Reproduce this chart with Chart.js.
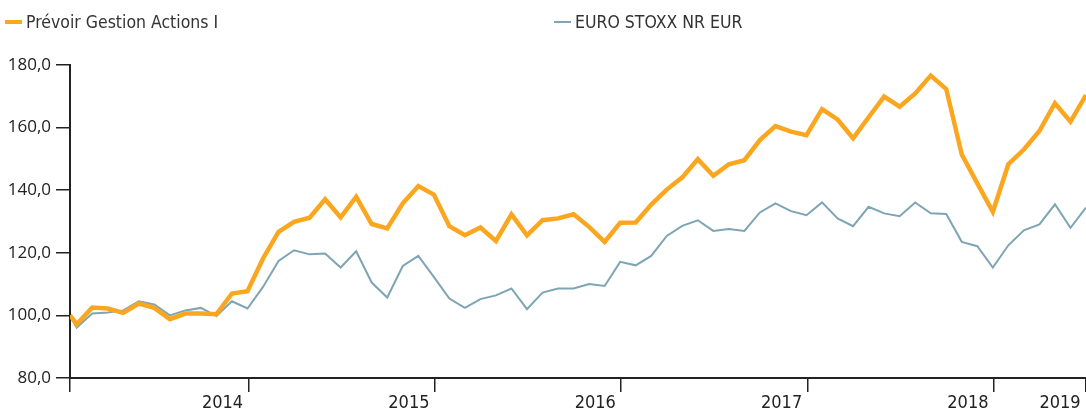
<!DOCTYPE html>
<html lang="fr">
<head>
    <meta charset="UTF-8">
    <title>Prévoir Gestion Actions I</title>
    <script src="https://cdn.jsdelivr.net/npm/chart.js"></script>
    <style>
        body {
            margin: 0;
            padding: 0;
            background: #fff;
        }
        .wrap {
            position: relative;
            width: 1086px;
            height: 411px;
        }
        .legend-item {
            position: absolute;
            top: 11px;
            height: 22px;
            font-family: 'Liberation Sans Narrow', 'DejaVu Sans Condensed', sans-serif;
            font-stretch: condensed;
            font-size: 17.5px;
            color: #333;
            white-space: nowrap;
            display: flex;
            align-items: center;
        }
        .legend-item .swatch {
            display: inline-block;
            width: 17px;
            margin-right: 4px;
        }
    </style>
</head>
<body>
    <div class="wrap">
        <canvas id="chart"></canvas>
        <div class="legend-item" style="left: 5px;"><span class="swatch" style="background:#FAA61E; height:4px"></span>Prévoir Gestion Actions I</div>
        <div class="legend-item" style="left: 554px;"><span class="swatch" style="background:#7DA5B4; height:2px"></span>EURO STOXX NR EUR</div>
    </div>

    <script>
        // month position of each point (first point is a mid-month start)
        var firstPointPos = -0.43;
        var fundValues = [100.0, 97.2, 102.5, 102.2, 100.8, 103.8, 102.4, 98.8, 100.6, 100.6, 100.4, 107.0, 107.7,
            118.2, 126.7, 129.9, 131.2, 137.1, 131.3, 137.9, 129.2, 127.8, 135.8, 141.3, 138.6, 128.5, 125.6,
            128.1, 123.8, 132.3, 125.6, 130.4, 131.0, 132.3, 128.3, 123.5, 129.6, 129.7, 135.4, 140.2,
            144.1, 149.9, 144.6, 148.3, 149.6, 156.0, 160.5, 158.7, 157.6, 165.9, 162.6, 156.6, 163.3,
            169.9, 166.7, 170.9, 176.6, 172.3, 151.4, 142.2, 133.1, 148.3, 153.0, 158.9, 167.8, 161.9, 170.4];
        var indexValues = [100.0, 96.1, 100.6, 100.9, 101.6, 104.5, 103.5, 100.0, 101.6, 102.4, 99.8, 104.5, 102.2,
            109.1, 117.4, 120.8, 119.5, 119.8, 115.3, 120.5, 110.5, 105.7, 115.8, 119.0, 112.3, 105.4, 102.4,
            105.2, 106.4, 108.6, 102.0, 107.3, 108.6, 108.6, 110.0, 109.4, 117.1, 116.0, 119.0, 125.4,
            128.6, 130.4, 127.0, 127.6, 127.0, 132.9, 135.8, 133.3, 132.0, 136.1, 131.0, 128.5, 134.7,
            132.6, 131.7, 136.1, 132.6, 132.4, 123.5, 122.1, 115.3, 122.4, 127.2, 129.1, 135.5, 128.0, 134.4];
        var yearTickPos = [firstPointPos, 11.07, 23.07, 35.07, 47.07, 59.07, 65];
        var yearLabels = ['', '2014', '2015', '2016', '2017', '2018', '2019'];
        var seriesNames = ['Prévoir Gestion Actions I', 'EURO STOXX NR EUR'];

        function toPoints(values) {
            return values.map(function (v, i) {
                return { x: i === 0 ? firstPointPos : i - 1, y: v };
            });
        }

        var narrowFont = { family: "'Liberation Sans Narrow', 'DejaVu Sans Condensed', sans-serif", size: 18 };

        var ctx = document.getElementById('chart').getContext('2d');
        var chart = new Chart(ctx, {
            type: 'line',
            data: {
                datasets: [{
                    label: seriesNames[0],
                    data: toPoints(fundValues),
                    borderColor: '#FAA61E',
                    borderWidth: 4.5,
                    pointRadius: 0,
                    tension: 0
                }, {
                    label: seriesNames[1],
                    data: toPoints(indexValues),
                    borderColor: '#7DA5B4',
                    borderWidth: 2,
                    pointRadius: 0,
                    tension: 0
                }]
            },
            options: {
                responsive: true,
                maintainAspectRatio: false,
                animation: false,
                layout: { padding: { top: 65, left: 0, right: 0, bottom: 0 } },
                plugins: {
                    legend: { display: false },
                    tooltip: { enabled: false }
                },
                scales: {
                    x: {
                        type: 'linear',
                        min: firstPointPos,
                        max: 65,
                        border: { color: '#222', width: 2 },
                        grid: { drawOnChartArea: false, tickLength: 14, color: '#222', lineWidth: 1.5 },
                        afterBuildTicks: function (scale) {
                            scale.ticks = yearTickPos.map(function (v) { return { value: v }; });
                        },
                        afterFit: function (scale) {
                            scale.height = 33;
                            scale.paddingLeft = 0;
                            scale.paddingRight = 0;
                        },
                        ticks: {
                            autoSkip: false,
                            maxRotation: 0,
                            labelOffset: -26,
                            padding: 1,
                            color: '#222',
                            font: narrowFont,
                            callback: function (value, index) {
                                return yearLabels[index];
                            }
                        }
                    },
                    y: {
                        min: 80,
                        max: 180,
                        border: { color: '#222', width: 2 },
                        grid: { drawOnChartArea: false, tickLength: 14, color: '#222', lineWidth: 1.5 },
                        afterFit: function (scale) {
                            scale.width = 70;
                            scale.paddingTop = 0;
                            scale.paddingBottom = 0;
                        },
                        ticks: {
                            stepSize: 20,
                            padding: 5,
                            color: '#222',
                            font: { family: "'Open Sans', sans-serif", size: 17 },
                            callback: function (value) {
                                return value.toFixed(1).replace('.', ',');
                            }
                        }
                    }
                }
            }
        });
    </script>
</body>
</html>
